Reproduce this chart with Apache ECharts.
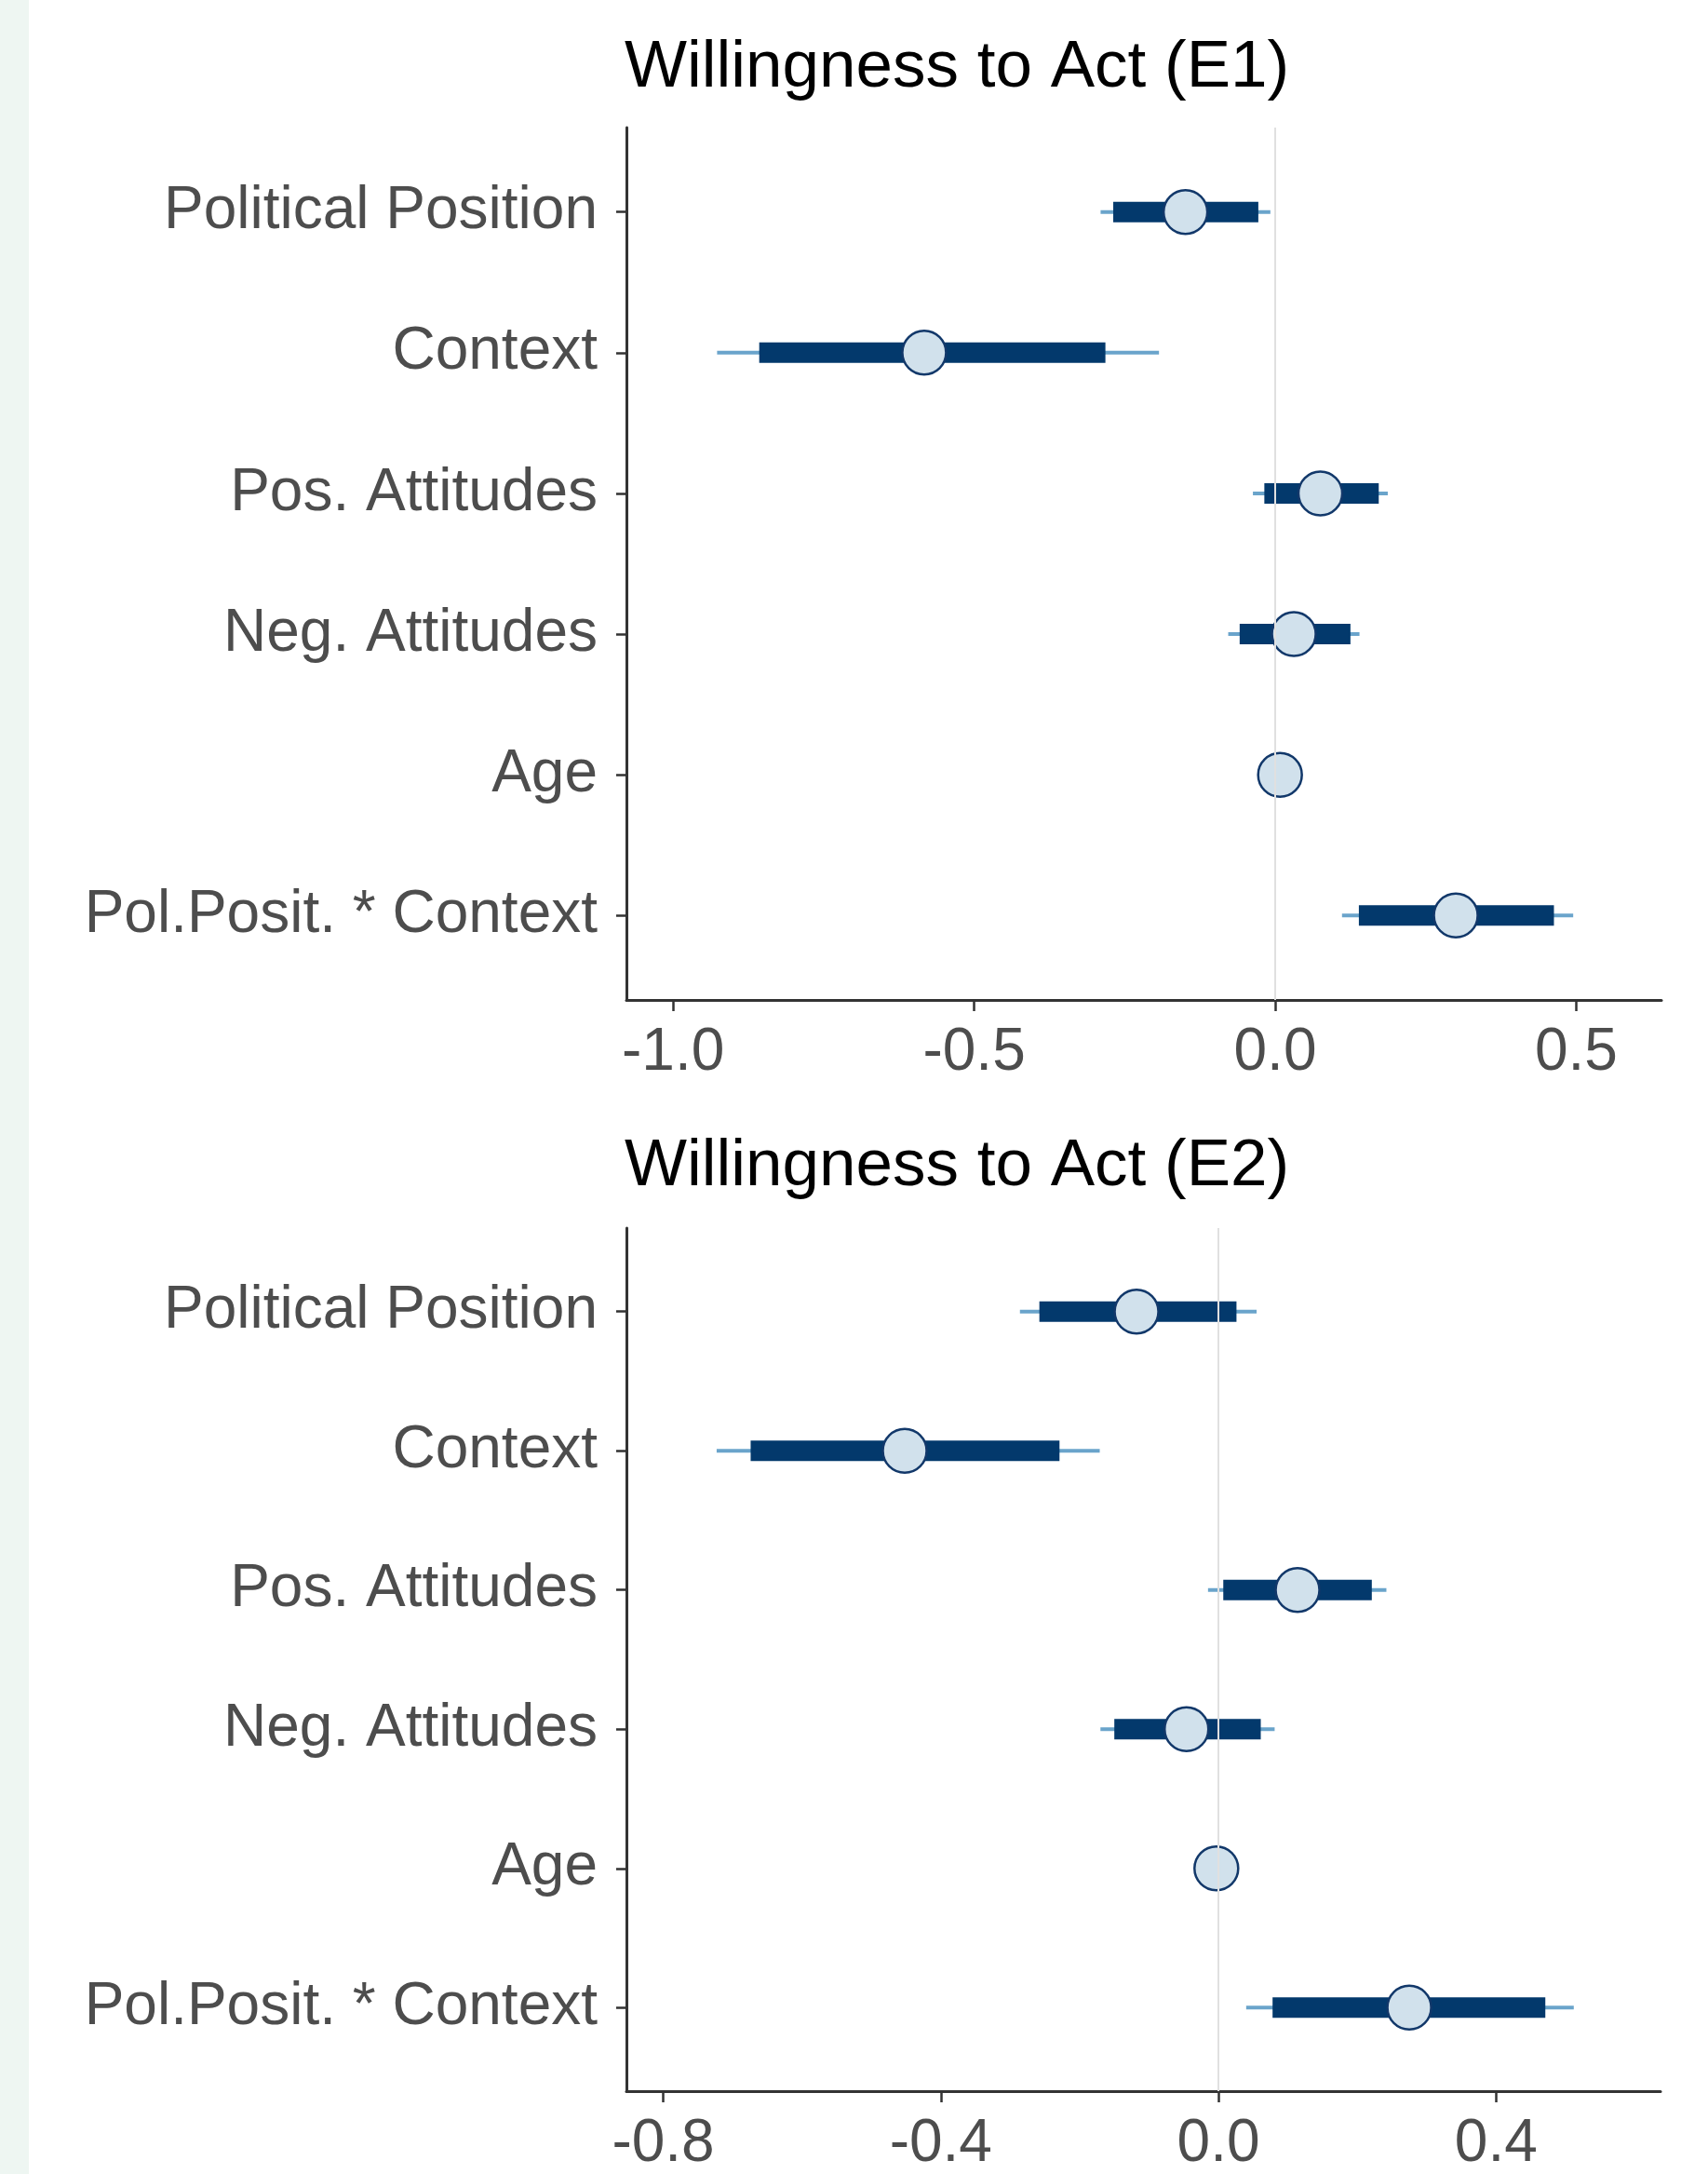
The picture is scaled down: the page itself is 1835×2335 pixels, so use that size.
<!DOCTYPE html>
<html>
<head>
<meta charset="utf-8">
<script src="https://cdn.jsdelivr.net/npm/echarts@6/dist/echarts.min.js"></script>
<style>
  html, body { margin: 0; padding: 0; background: #ffffff; }
  #chart { width: 1835px; height: 2335px; }
</style>
</head>
<body>
<div id="chart"></div>
<script>
// Predictors, listed top to bottom
const predictors = ['Political Position', 'Context', 'Pos. Attitudes', 'Neg. Attitudes', 'Age', 'Pol.Posit. * Context'];

// Willingness to Act (E1): outer interval, inner interval, point estimate
const e1OuterLow  = [-0.290, -0.927, -0.037, -0.078, 0.005, 0.111];
const e1OuterHigh = [-0.008, -0.193,  0.187,  0.140, 0.011, 0.495];
const e1InnerLow  = [-0.269, -0.857, -0.018, -0.059, 0.007, 0.139];
const e1InnerHigh = [-0.028, -0.282,  0.172,  0.125, 0.009, 0.463];
const e1Estimate  = [-0.149, -0.583,  0.075,  0.031, 0.008, 0.300];

// Willingness to Act (E2)
const e2OuterLow  = [-0.286, -0.723, -0.015, -0.170, -0.007, 0.040];
const e2OuterHigh = [ 0.055, -0.171,  0.242,  0.081,  0.001, 0.512];
const e2InnerLow  = [-0.258, -0.674,  0.007, -0.150, -0.005, 0.078];
const e2InnerHigh = [ 0.026, -0.229,  0.221,  0.061, -0.001, 0.471];
const e2Estimate  = [-0.118, -0.452,  0.114, -0.046, -0.003, 0.275];

// Tick labels on the coefficient axes
const e1Ticks = [-1.0, -0.5, 0.0, 0.5];
const e2Ticks = [-0.8, -0.4, 0.0, 0.4];

const rowIndex = predictors.map((_, i) => i);
const FONT = '"Liberation Sans", Arial, Helvetica, sans-serif';

function rows(lo, hi, ilo, ihi, est) {
  return predictors.map((_, i) => [i, lo[i], hi[i], ilo[i], ihi[i], est[i]]);
}

// One interval row: thin outer segment, thick inner bar, point estimate
function renderInterval(params, api) {
  const row = api.value(0);
  const oLo = api.coord([api.value(1), row]);
  const oHi = api.coord([api.value(2), row]);
  const iLo = api.coord([api.value(3), row]);
  const iHi = api.coord([api.value(4), row]);
  const pt  = api.coord([api.value(5), row]);
  const y = pt[1];
  return {
    type: 'group',
    children: [
      { type: 'line', shape: { x1: oLo[0], y1: y, x2: oHi[0], y2: y },
        style: { stroke: '#6aa4cb', lineWidth: 4 } },
      { type: 'rect', shape: { x: iLo[0], y: y - 11, width: iHi[0] - iLo[0], height: 22 },
        style: { fill: '#03396c' } },
      { type: 'circle', shape: { cx: pt[0], cy: y, r: 23.5 },
        style: { fill: '#d1e1ec', stroke: '#12386a', lineWidth: 2.5 } }
    ]
  };
}

function xAxisFor(idx, min, max, ticks) {
  return {
    type: 'value', gridIndex: idx, min: min, max: max,
    splitLine: { show: false },
    axisLine: { show: true, onZero: false, lineStyle: { color: '#333333', width: 3 } },
    axisTick: { show: true, length: 12, customValues: ticks, lineStyle: { color: '#333333', width: 2.5 } },
    axisLabel: { customValues: ticks, margin: 25, fontSize: 64, color: '#4d4d4d', fontFamily: FONT,
                 formatter: v => v.toFixed(1) }
  };
}

function yAxisFor(idx) {
  return {
    type: 'value', gridIndex: idx, min: -0.6, max: 5.6, inverse: true,
    splitLine: { show: false },
    axisLine: { show: true, onZero: false, lineStyle: { color: '#333333', width: 3 } },
    axisTick: { show: true, length: 11, customValues: rowIndex, lineStyle: { color: '#333333', width: 2.5 } },
    axisLabel: { customValues: rowIndex, margin: 31, fontSize: 64, color: '#4d4d4d', fontFamily: FONT,
                 padding: [7, 0, 0, 0],
                 formatter: v => predictors[Math.round(v)] }
  };
}

function zeroLine(idx) {
  return {
    type: 'line', xAxisIndex: idx, yAxisIndex: idx, data: [], z: 1, silent: true,
    markLine: { symbol: 'none', silent: true, label: { show: false },
                lineStyle: { color: '#e0e0e0', width: 2, type: 'solid' },
                data: [{ xAxis: 0 }] }
  };
}

const chart = echarts.init(document.getElementById('chart'), null, { renderer: 'canvas' });
chart.setOption({
  backgroundColor: '#ffffff',
  animation: false,
  graphic: [
    { type: 'rect', left: 0, top: 0, shape: { width: 31, height: 2335 }, style: { fill: '#eef6f2' }, z: 0 }
  ],
  title: [
    { text: 'Willingness to Act (E1)', left: 671, top: 38, padding: 0,
      textStyle: { fontSize: 71, fontWeight: 'normal', color: '#000000', fontFamily: FONT } },
    { text: 'Willingness to Act (E2)', left: 671, top: 1218, padding: 0,
      textStyle: { fontSize: 71, fontWeight: 'normal', color: '#000000', fontFamily: FONT } }
  ],
  grid: [
    { left: 673, top: 137, width: 1112, height: 937 },
    { left: 673, top: 1319, width: 1111, height: 936 }
  ],
  xAxis: [
    xAxisFor(0, -1.0776, 0.6416, e1Ticks),
    xAxisFor(1, -0.853, 0.637, e2Ticks)
  ],
  yAxis: [yAxisFor(0), yAxisFor(1)],
  series: [
    zeroLine(0),
    zeroLine(1),
    { type: 'custom', xAxisIndex: 0, yAxisIndex: 0, z: 3, renderItem: renderInterval,
      encode: { x: [1, 2, 3, 4, 5], y: 0 },
      data: rows(e1OuterLow, e1OuterHigh, e1InnerLow, e1InnerHigh, e1Estimate) },
    { type: 'custom', xAxisIndex: 1, yAxisIndex: 1, z: 3, renderItem: renderInterval,
      encode: { x: [1, 2, 3, 4, 5], y: 0 },
      data: rows(e2OuterLow, e2OuterHigh, e2InnerLow, e2InnerHigh, e2Estimate) }
  ]
});
</script>
</body>
</html>
